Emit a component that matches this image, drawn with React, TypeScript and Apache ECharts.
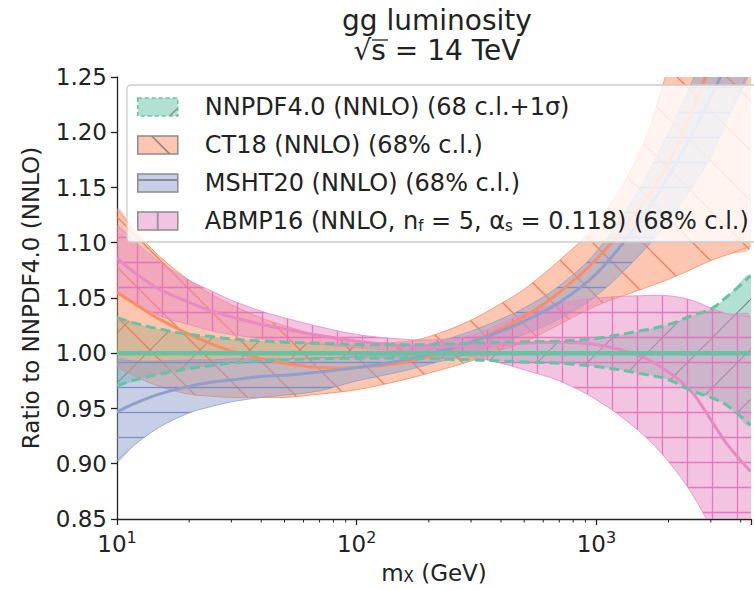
import React, { useEffect, useRef } from "react";
import * as echarts from "echarts";

// ---------------- data ----------------
const massGrid = [10, 12, 15, 20, 25, 30, 40, 50, 70, 100, 150, 200, 300, 400, 500, 700, 1000, 1500, 2000, 2500, 3000, 3500, 4400];

const nnpdfCentral = [1, 1, 1, 1, 1, 1, 1, 1, 1, 1, 1, 1, 1, 1, 1, 1, 1, 1, 1, 1, 1, 1, 1];
const nnpdfUpper = [1.032, 1.027, 1.022, 1.017, 1.015, 1.013, 1.011, 1.01, 1.009, 1.008, 1.0076, 1.008, 1.009, 1.01, 1.0105, 1.011, 1.0135, 1.02, 1.026, 1.034, 1.04, 1.051, 1.07];
const nnpdfLower = [0.971, 0.976, 0.981, 0.986, 0.989, 0.991, 0.993, 0.994, 0.995, 0.9955, 0.9955, 0.995, 0.994, 0.993, 0.992, 0.991, 0.988, 0.982, 0.976, 0.966, 0.96, 0.953, 0.935];

const ct18Central = [1.055, 1.044, 1.031, 1.017, 1.008, 1.002, 0.995, 0.991, 0.987, 0.987, 0.991, 0.997, 1.01, 1.022, 1.033, 1.055, 1.085, 1.13, 1.172, 1.218, 1.262, 1.3, 1.37];
const ct18Upper = [1.13, 1.11, 1.088, 1.066, 1.053, 1.044, 1.032, 1.025, 1.016, 1.01, 1.01, 1.015, 1.03, 1.045, 1.058, 1.084, 1.117, 1.18, 1.26, 1.34, 1.41, 1.47, 1.57];
const ct18Lower = [0.99, 0.979, 0.97, 0.963, 0.961, 0.96, 0.96, 0.96, 0.963, 0.967, 0.975, 0.982, 0.993, 1.003, 1.01, 1.026, 1.043, 1.057, 1.067, 1.076, 1.084, 1.089, 1.097];

const mshtCentral = [0.947, 0.955, 0.963, 0.97, 0.974, 0.976, 0.979, 0.98, 0.983, 0.987, 0.993, 0.999, 1.01, 1.02, 1.029, 1.046, 1.072, 1.118, 1.16, 1.198, 1.232, 1.262, 1.31];
const mshtUpper = [0.994, 0.993, 0.993, 0.994, 0.994, 0.995, 0.995, 0.995, 0.996, 0.997, 1.002, 1.008, 1.02, 1.031, 1.041, 1.061, 1.092, 1.148, 1.2, 1.245, 1.285, 1.32, 1.38];
const mshtLower = [0.903, 0.918, 0.933, 0.946, 0.952, 0.956, 0.96, 0.962, 0.966, 0.975, 0.983, 0.99, 1.0, 1.009, 1.017, 1.031, 1.052, 1.088, 1.12, 1.15, 1.178, 1.21, 1.26];

const abmpCentral = [1.086, 1.072, 1.058, 1.046, 1.038, 1.033, 1.026, 1.022, 1.016, 1.011, 1.007, 1.006, 1.007, 1.008, 1.009, 1.01, 1.008, 0.998, 0.983, 0.965, 0.94, 0.918, 0.893];
const abmpUpper = [1.115, 1.1, 1.083, 1.066, 1.056, 1.048, 1.038, 1.032, 1.024, 1.017, 1.013, 1.012, 1.016, 1.027, 1.036, 1.045, 1.05, 1.052, 1.052, 1.048, 1.041, 1.036, 1.033];
const abmpLower = [1.057, 1.045, 1.034, 1.026, 1.02, 1.017, 1.013, 1.011, 1.008, 1.005, 1.002, 1.0, 0.997, 0.991, 0.985, 0.975, 0.958, 0.93, 0.902, 0.873, 0.842, 0.81, 0.76];

const minorTickMasses = [20, 30, 40, 50, 60, 70, 80, 90, 200, 300, 400, 500, 600, 700, 800, 900, 2000, 3000, 4000];

const legendNames = [
  "NNPDF4.0 (NNLO) (68 c.l.+1σ)",
  "CT18 (NNLO) (68% c.l.)",
  "MSHT20 (NNLO) (68% c.l.)",
  "ABMP16 (NNLO, nf = 5, αs = 0.118) (68% c.l.)",
];

const titleText = "gg luminosity\n√s = 14 TeV";
const yAxisTitle = "Ratio to NNPDF4.0 (NNLO)";

const X_MIN = 10;
const X_MAX = 4416;
const Y_MIN = 0.85;
const Y_MAX = 1.25;
const Y_STEP = 0.05;

// ---------------- styling ----------------
const FONT = '"DejaVu Sans", "Liberation Sans", sans-serif';
const GREEN = "#66c2a5";
const ORANGE = "#fc8d62";
const BLUE = "#8da0cb";
const PINK = "#e78ac3";
const TEXT = "#222222";
const SMOOTH = 0.35;

// repeating tile: translucent background plus hatch segments [x1, y1, x2, y2]
function hatch(bg: string, stroke: string, w: number, h: number, lw: number, segs: number[][]) {
  const c = document.createElement("canvas");
  c.width = w;
  c.height = h;
  const ctx = c.getContext("2d")!;
  ctx.fillStyle = bg;
  ctx.fillRect(0, 0, w, h);
  ctx.strokeStyle = stroke;
  ctx.lineWidth = lw;
  ctx.beginPath();
  segs.forEach((s) => {
    ctx.moveTo(s[0], s[1]);
    ctx.lineTo(s[2], s[3]);
  });
  ctx.stroke();
  return { image: c, repeat: "repeat", imageWidth: w, imageHeight: h } as any;
}

// A band drawn as one polygon (upper edge, then lower edge reversed) through the cartesian scales.
function bandSeries(name: string, lower: number[], upper: number[], fill: any, edge: any) {
  return {
    type: "custom",
    name,
    coordinateSystem: "cartesian2d",
    data: massGrid.map((m, i) => [m, lower[i], upper[i]]),
    encode: { x: 0, y: [1, 2] },
    clip: true,
    silent: true,
    renderItem: (params: any, api: any) => {
      if (params.dataIndexInside !== 0) return null;
      const n = params.dataInsideLength;
      const up: number[][] = [];
      const lo: number[][] = [];
      for (let i = 0; i < n; i++) {
        up.push(api.coord([api.value(0, i), api.value(2, i)]));
        lo.push(api.coord([api.value(0, i), api.value(1, i)]));
      }
      const left = up[0][0];
      const constraint = [
        [left, -1e5],
        [1e5, 1e5],
      ];
      const children: any[] = [
        {
          type: "polygon",
          shape: { points: up.concat(lo.slice().reverse()), smooth: SMOOTH, smoothConstraint: constraint },
          style: { fill, stroke: null },
        },
      ];
      if (edge) {
        children.push(
          { type: "polyline", shape: { points: up, smooth: SMOOTH }, style: { fill: null, ...edge } },
          { type: "polyline", shape: { points: lo, smooth: SMOOTH }, style: { fill: null, ...edge } }
        );
      }
      return { type: "group", children };
    },
  };
}

function lineSeries(id: string, values: number[], stroke: string, lineWidth: number, lineDash?: number[]) {
  return {
    type: "custom",
    name: id,
    coordinateSystem: "cartesian2d",
    data: massGrid.map((m, i) => [m, values[i]]),
    encode: { x: 0, y: 1 },
    clip: true,
    silent: true,
    renderItem: (params: any, api: any) => {
      if (params.dataIndexInside !== 0) return null;
      const n = params.dataInsideLength;
      const pts: number[][] = [];
      for (let i = 0; i < n; i++) pts.push(api.coord([api.value(0, i), api.value(1, i)]));
      return {
        type: "polyline",
        shape: { points: pts, smooth: SMOOTH },
        style: { fill: null, stroke, lineWidth, lineDash: lineDash || null },
      };
    },
  };
}

export default function App() {
  const ref = useRef<HTMLDivElement>(null);

  useEffect(() => {
    if (!ref.current) return;
    const chart = echarts.init(ref.current, undefined, { renderer: "svg" });

    const ctFill = hatch("rgba(252,141,98,0.5)", "rgba(238,118,78,0.85)", 50, 50, 1.3, [[-2, -2, 52, 52]]);
    const msFill = hatch("rgba(141,160,203,0.5)", "rgba(118,138,204,0.9)", 25, 25, 1.3, [[0, 12.5, 25, 12.5]]);
    const abFill = hatch("rgba(231,138,195,0.5)", "rgba(226,112,186,0.9)", 25, 25, 1.3, [
      [0, 12.5, 25, 12.5],
      [12.5, 0, 12.5, 25],
    ]);
    const nnFill = hatch("rgba(102,194,165,0.5)", "rgba(80,80,80,0.6)", 50, 50, 1.2, [[-2, 52, 52, -2]]);

    const gray = "rgba(110,110,110,0.9)";
    const ctIcon = hatch("rgba(252,141,98,0.5)", gray, 40, 40, 1.3, [[14, 0, 54, 40]]);
    const msIcon = hatch("rgba(141,160,203,0.5)", gray, 40, 40, 1.3, [[0, 6, 40, 6]]);
    const abIcon = hatch("rgba(231,138,195,0.5)", gray, 40, 40, 1.3, [[20, 0, 20, 40]]);
    const nnIcon = hatch("rgba(102,194,165,0.5)", gray, 40, 40, 1.2, [[10, 40, 50, 0]]);

    const series: any[] = [
      bandSeries(legendNames[0], nnpdfLower, nnpdfUpper, nnFill, null),
      bandSeries(legendNames[1], ct18Lower, ct18Upper, ctFill, { stroke: "rgba(252,141,98,0.8)", lineWidth: 1 }),
      bandSeries(legendNames[2], mshtLower, mshtUpper, msFill, { stroke: "rgba(141,160,203,0.8)", lineWidth: 1 }),
      bandSeries(legendNames[3], abmpLower, abmpUpper, abFill, { stroke: "rgba(231,138,195,0.8)", lineWidth: 1 }),
      lineSeries("ct18-central", ct18Central, ORANGE, 3),
      lineSeries("msht-central", mshtCentral, BLUE, 3),
      lineSeries("abmp-central", abmpCentral, PINK, 3),
      lineSeries("nnpdf-upper", nnpdfUpper, GREEN, 3, [10, 5]),
      lineSeries("nnpdf-lower", nnpdfLower, GREEN, 3, [10, 5]),
      lineSeries("nnpdf-central", nnpdfCentral, GREEN, 4.5),
      {
        type: "custom",
        name: "minor-ticks",
        coordinateSystem: "cartesian2d",
        data: minorTickMasses.map((m) => [m, Y_MIN]),
        encode: { x: 0, y: 1 },
        clip: false,
        silent: true,
        renderItem: (_p: any, api: any) => {
          const pt = api.coord([api.value(0), api.value(1)]);
          return {
            type: "line",
            shape: { x1: pt[0], y1: pt[1], x2: pt[0], y2: pt[1] + 3.5 },
            style: { stroke: TEXT, lineWidth: 1 },
          };
        },
      },
    ];

    const option: any = {
      animation: false,
      backgroundColor: "#ffffff",
      textStyle: { fontFamily: FONT },
      grid: { left: 117, right: -3, top: 77, bottom: 71, containLabel: false },
      graphic: [
        {
          type: "text",
          x: 437,
          y: 5,
          style: {
            text: titleText,
            font: `28px ${FONT}`,
            lineHeight: 30,
            textAlign: "center",
            fill: TEXT,
          },
        },
        {
          type: "line",
          shape: { x1: 372, y1: 40, x2: 388, y2: 40 },
          style: { stroke: TEXT, lineWidth: 1.3 },
        },
      ],
      xAxis: {
        type: "log",
        logBase: 10,
        min: X_MIN,
        max: X_MAX,
        name: "m{sub|X} (GeV)",
        nameLocation: "middle",
        nameGap: 42,
        nameTextStyle: {
          fontFamily: FONT,
          fontSize: 23,
          color: TEXT,
          rich: { sub: { fontSize: 15, fontFamily: FONT, color: TEXT, verticalAlign: "bottom", lineHeight: 14 } },
        },
        axisLine: { show: true, lineStyle: { color: TEXT, width: 1.3 } },
        axisTick: { show: true, length: 6, lineStyle: { color: TEXT, width: 1.3 } },
        splitLine: { show: false },
        axisLabel: {
          margin: 10,
          color: TEXT,
          fontFamily: FONT,
          formatter: (v: number) => {
            const e = Math.log10(v);
            if (Math.abs(e - Math.round(e)) < 1e-6) return `{b|10}{sup|${Math.round(e)}}`;
            return "";
          },
          rich: {
            b: { fontSize: 23, fontFamily: FONT, color: TEXT, lineHeight: 30 },
            sup: { fontSize: 16, fontFamily: FONT, color: TEXT, verticalAlign: "top", lineHeight: 16 },
          },
        },
      },
      yAxis: {
        type: "value",
        min: Y_MIN,
        max: Y_MAX,
        interval: Y_STEP,
        name: yAxisTitle,
        nameLocation: "middle",
        nameGap: 75,
        nameTextStyle: { fontFamily: FONT, fontSize: 23, color: TEXT },
        axisLine: { show: true, lineStyle: { color: TEXT, width: 1.3 } },
        axisTick: { show: true, length: 6, lineStyle: { color: TEXT, width: 1.3 } },
        splitLine: { show: false },
        axisLabel: {
          margin: 10,
          fontSize: 23,
          fontFamily: FONT,
          color: TEXT,
          formatter: (v: number) => v.toFixed(2),
        },
      },
      legend: {
        orient: "vertical",
        left: 127,
        top: 85,
        padding: [10, 10, 9, 10],
        itemGap: 14,
        itemWidth: 40,
        itemHeight: 18,
        backgroundColor: "rgba(255,255,255,0.8)",
        borderColor: "#cccccc",
        borderWidth: 1.3,
        borderRadius: 4,
        selectedMode: false,
        textStyle: {
          fontFamily: FONT,
          fontSize: 24,
          color: TEXT,
          padding: [0, 0, 0, 22],
          rich: {
            sub: { fontSize: 15, fontFamily: FONT, color: TEXT, verticalAlign: "bottom", lineHeight: 14 },
          },
        },
        formatter: (name: string) =>
          name === legendNames[3] ? "ABMP16 (NNLO, n{sub|f} = 5, α{sub|s} = 0.118) (68% c.l.)" : name,
        data: [
          { name: legendNames[0], icon: "rect", itemStyle: { color: nnIcon, borderColor: GREEN, borderWidth: 1.5, borderType: [4, 3] } },
          { name: legendNames[1], icon: "rect", itemStyle: { color: ctIcon, borderColor: "#8c8c8c", borderWidth: 1.5 } },
          { name: legendNames[2], icon: "rect", itemStyle: { color: msIcon, borderColor: "#8c8c8c", borderWidth: 1.5 } },
          { name: legendNames[3], icon: "rect", itemStyle: { color: abIcon, borderColor: "#8c8c8c", borderWidth: 1.5 } },
        ],
      },
      series,
    };

    chart.setOption(option);
    return () => chart.dispose();
  }, []);

  return <div ref={ref} style={{ position: "fixed", left: 0, top: 0, width: 754, height: 590 }} />;
}
